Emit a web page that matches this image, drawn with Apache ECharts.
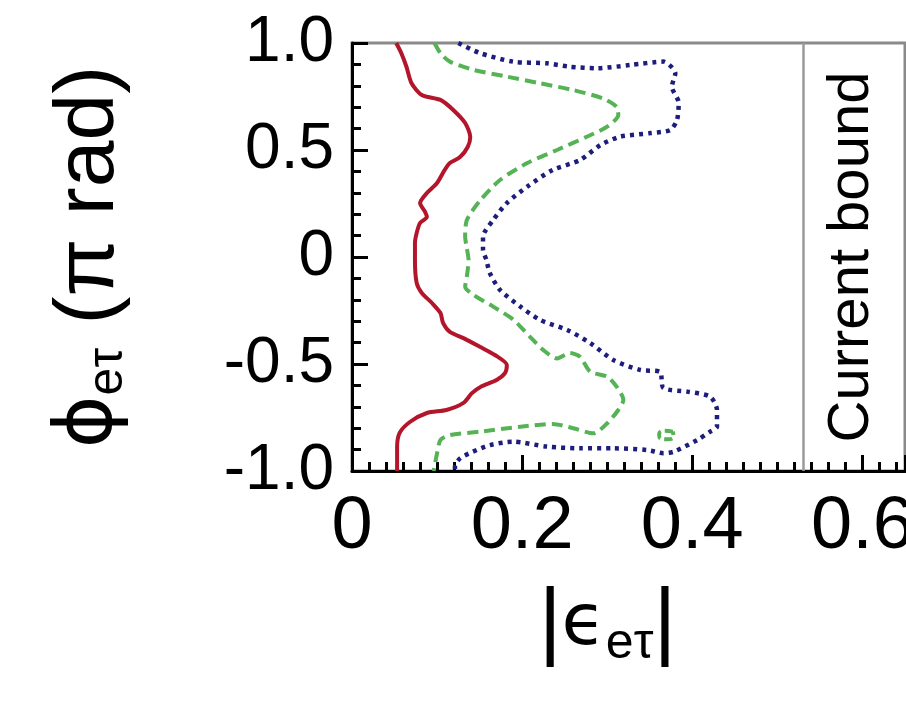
<!DOCTYPE html>
<html>
<head>
<meta charset="utf-8">
<script src="https://cdn.jsdelivr.net/npm/echarts@6/dist/echarts.min.js"></script>
<style>
  html, body { margin: 0; padding: 0; background: #ffffff; }
  #chart { width: 906px; height: 706px; }
</style>
</head>
<body>
<div id="chart"></div>
<script>
// Allowed-region contours in the (|eps_e_tau|, phi_e_tau) plane.
// Each contour is an ordered path: x = |eps|, y = phi (in units of pi).

const redX = [0.052, 0.058, 0.064, 0.070, 0.082, 0.104, 0.119, 0.133, 0.139, 0.136, 0.127, 0.115, 0.109, 0.100, 0.088, 0.080, 0.086, 0.088, 0.080, 0.076, 0.074, 0.074, 0.076, 0.082, 0.094, 0.104, 0.107, 0.115, 0.131, 0.151, 0.168, 0.182, 0.180, 0.170, 0.151, 0.141, 0.131, 0.111, 0.088, 0.068, 0.056, 0.053, 0.053];
const redY = [1.000, 0.952, 0.889, 0.812, 0.757, 0.734, 0.687, 0.626, 0.561, 0.514, 0.467, 0.439, 0.407, 0.346, 0.299, 0.252, 0.210, 0.187, 0.159, 0.112, 0.065, -0.014, -0.121, -0.168, -0.215, -0.262, -0.308, -0.350, -0.379, -0.421, -0.458, -0.505, -0.542, -0.575, -0.607, -0.636, -0.682, -0.715, -0.729, -0.771, -0.822, -0.888, -1.000];

const greenX = [0.097, 0.104, 0.115, 0.143, 0.182, 0.221, 0.260, 0.295, 0.311, 0.313, 0.300, 0.276, 0.241, 0.206, 0.174, 0.151, 0.135, 0.133, 0.135, 0.137, 0.135, 0.133, 0.143, 0.166, 0.190, 0.209, 0.225, 0.241, 0.256, 0.268, 0.280, 0.300, 0.311, 0.319, 0.313, 0.300, 0.284, 0.260, 0.236, 0.198, 0.151, 0.115, 0.104, 0.100, 0.096];
const greenY = [1.000, 0.952, 0.913, 0.874, 0.843, 0.812, 0.780, 0.741, 0.702, 0.664, 0.609, 0.562, 0.500, 0.439, 0.360, 0.266, 0.173, 0.095, 0.040, -0.014, -0.092, -0.139, -0.178, -0.232, -0.294, -0.372, -0.435, -0.474, -0.449, -0.466, -0.536, -0.559, -0.606, -0.668, -0.715, -0.777, -0.824, -0.800, -0.780, -0.793, -0.816, -0.832, -0.855, -0.917, -1.000];

// small closed island of the dashed contour near the lower right
const greenIslandX = [0.377, 0.368, 0.361, 0.362, 0.371, 0.378, 0.377];
const greenIslandY = [-0.816, -0.812, -0.826, -0.846, -0.852, -0.838, -0.816];

const blueX = [0.125, 0.151, 0.189, 0.229, 0.256, 0.288, 0.327, 0.366, 0.380, 0.376, 0.384, 0.382, 0.374, 0.351, 0.315, 0.292, 0.268, 0.236, 0.206, 0.182, 0.166, 0.154, 0.154, 0.158, 0.162, 0.174, 0.198, 0.221, 0.253, 0.280, 0.307, 0.339, 0.362, 0.366, 0.394, 0.421, 0.429, 0.429, 0.421, 0.406, 0.378, 0.366, 0.347, 0.307, 0.268, 0.229, 0.189, 0.162, 0.142, 0.127, 0.121, 0.121];
const blueY = [1.000, 0.952, 0.913, 0.905, 0.889, 0.882, 0.897, 0.913, 0.858, 0.796, 0.720, 0.640, 0.593, 0.579, 0.562, 0.523, 0.453, 0.407, 0.329, 0.252, 0.173, 0.095, 0.033, -0.014, -0.075, -0.154, -0.232, -0.294, -0.341, -0.402, -0.481, -0.528, -0.537, -0.612, -0.629, -0.653, -0.715, -0.793, -0.816, -0.855, -0.910, -0.917, -0.902, -0.894, -0.894, -0.886, -0.863, -0.879, -0.910, -0.941, -0.980, -1.000];

// present experimental limit on |eps_e_tau|
const currentBound = 0.53;
const boundLabel = 'Current bound';

const xTickValues = [0, 0.2, 0.4, 0.6];
const xTickLabels = ['0', '0.2', '0.4', '0.6'];
const yTickValues = [-1, -0.5, 0, 0.5, 1];
const yTickLabels = ['-1.0', '-0.5', '0', '0.5', '1.0'];

function pairs(xs, ys) {
  return xs.map((x, i) => [x, ys[i]]);
}
function tickText(values, labels) {
  return v => {
    const i = values.findIndex(t => Math.abs(t - v) < 1e-9);
    return i >= 0 ? labels[i] : '';
  };
}

const FONT = '"Liberation Sans", Arial, "DejaVu Sans", sans-serif';
const GREEK = '"DejaVu Sans", "Liberation Sans", sans-serif';

const chart = echarts.init(document.getElementById('chart'), null, { renderer: 'canvas' });

const lineBase = { type: 'line', showSymbol: false, symbol: 'none', smooth: 0.25, silent: true, z: 3 };

chart.setOption({
  animation: false,
  backgroundColor: '#ffffff',
  grid: {
    left: 352, top: 43, right: 1, bottom: 235,
    outerBoundsMode: 'none', containLabel: false,
    show: true, borderColor: '#8a8a8a', borderWidth: 3, backgroundColor: 'transparent'
  },
  xAxis: {
    type: 'value', min: 0, max: 0.65, interval: 0.2,
    axisLine: { show: true, onZero: false, lineStyle: { color: '#000', width: 3 } },
    axisTick: { show: true, inside: true, length: 16, lineStyle: { color: '#000', width: 3 } },
    minorTick: { show: true, splitNumber: 10, length: 9, lineStyle: { color: '#000', width: 3 } },
    splitLine: { show: false },
    axisLabel: {
      showMaxLabel: false, hideOverlap: false, margin: 20, color: '#000', fontFamily: FONT, fontSize: 74, lineHeight: 74,
      formatter: tickText(xTickValues, xTickLabels)
    },
    name: '{n||}{g|ϵ}{s|eτ}{n||}',
    nameLocation: 'middle', nameGap: 104,
    nameTextStyle: {
      padding: [0, 42, 0, 0],
      rich: {
        n: { fontFamily: FONT, fontSize: 88, color: '#000', lineHeight: 100 },
        g: { fontFamily: GREEK, fontSize: 72, color: '#000', lineHeight: 100 },
        s: { fontFamily: FONT, fontSize: 50, color: '#000', lineHeight: 100, padding: [38, 0, 0, 0] }
      }
    }
  },
  yAxis: {
    type: 'value', min: -1, max: 1, interval: 0.5,
    axisLine: { show: true, onZero: false, lineStyle: { color: '#000', width: 3 } },
    axisTick: { show: true, inside: true, length: 16, lineStyle: { color: '#000', width: 3 } },
    minorTick: { show: true, splitNumber: 5, length: 9, lineStyle: { color: '#000', width: 3 } },
    splitLine: { show: false },
    axisLabel: {
      margin: 18, color: '#000', fontFamily: FONT, fontSize: 64, lineHeight: 64,
      formatter: tickText(yTickValues, yTickLabels)
    },
    name: '{g|ϕ}{s|eτ}{n| (π rad)}',
    nameLocation: 'middle', nameGap: 214, nameRotate: 90,
    nameTextStyle: {
      rich: {
        g: { fontFamily: GREEK, fontSize: 80, color: '#000', lineHeight: 96 },
        s: { fontFamily: FONT, fontSize: 50, color: '#000', lineHeight: 96, padding: [36, 0, 0, 0] },
        n: { fontFamily: FONT, fontSize: 84, color: '#000', lineHeight: 96 }
      }
    }
  },
  series: [
    Object.assign({}, lineBase, {
      name: 'bound',
      data: [],
      markLine: {
        silent: true, symbol: 'none', animation: false,
        lineStyle: { color: '#9a9a9a', width: 2.5, type: 'solid' },
        label: {
          show: true, position: 'insideMiddleBottom', distance: 20,
          formatter: boundLabel, color: '#000', fontFamily: FONT, fontSize: 58
        },
        data: [{ xAxis: currentBound }]
      }
    }),
    Object.assign({}, lineBase, {
      name: 'blue', data: pairs(blueX, blueY),
      lineStyle: { color: '#1d1d7c', width: 4.5, type: [4, 5], cap: 'butt' }
    }),
    Object.assign({}, lineBase, {
      name: 'green', data: pairs(greenX, greenY),
      lineStyle: { color: '#55b355', width: 4, type: [11, 6], cap: 'butt' }
    }),
    Object.assign({}, lineBase, {
      name: 'greenIsland', data: pairs(greenIslandX, greenIslandY), smooth: 0.5,
      lineStyle: { color: '#55b355', width: 4, type: [8, 4], cap: 'butt' }
    }),
    Object.assign({}, lineBase, {
      name: 'red', data: pairs(redX, redY),
      lineStyle: { color: '#b3162b', width: 4 }
    })
  ]
});
</script>
</body>
</html>
